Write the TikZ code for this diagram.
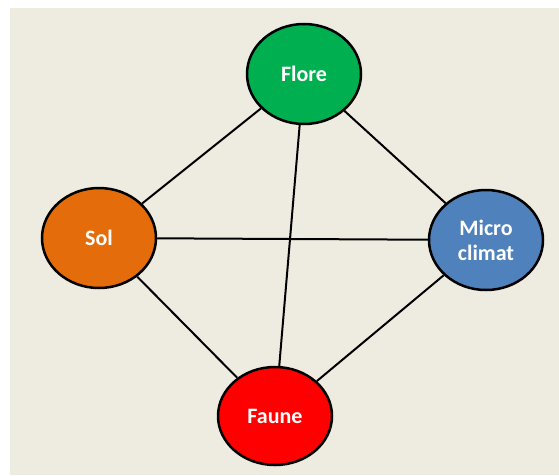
\documentclass[tikz,border=0pt]{standalone}
\usepackage{fontspec}
\setmainfont{Carlito}
\usetikzlibrary{shapes.geometric}
\definecolor{bgc}{HTML}{EEECE1}
\definecolor{floreC}{HTML}{00B050}
\definecolor{solC}{HTML}{E46C0A}
\definecolor{microC}{HTML}{4F81BD}
\definecolor{fauneC}{HTML}{FF0000}
\begin{document}
\begin{tikzpicture}[x=1pt,y=-1pt,
  blob/.style={ellipse, draw=black, line width=2.5pt, minimum width=114pt, minimum height=100pt, inner sep=0pt,
    text=white, font=\bfseries\fontsize{22}{25}\selectfont, align=center},
  link/.style={line width=2pt, draw=black}]
\useasboundingbox (0,0) rectangle (559,475);
\fill[bgc] (10,8) rectangle (559,475);
\node[blob, fill=floreC] (flore) at (304,74) {Flore};
\node[blob, fill=solC] (sol) at (99,238) {Sol};
\node[blob, fill=microC] (micro) at (486,240) {Micro\\climat};
\node[blob, fill=fauneC, minimum height=98pt] (faune) at (275,416) {Faune};
\draw[link] (flore) -- (sol);
\draw[link] (flore) -- (micro);
\draw[link] (flore) -- (faune);
\draw[link] (sol) -- (micro);
\draw[link] (sol) -- (faune);
\draw[link] (micro) -- (faune);
\end{tikzpicture}
\end{document}
